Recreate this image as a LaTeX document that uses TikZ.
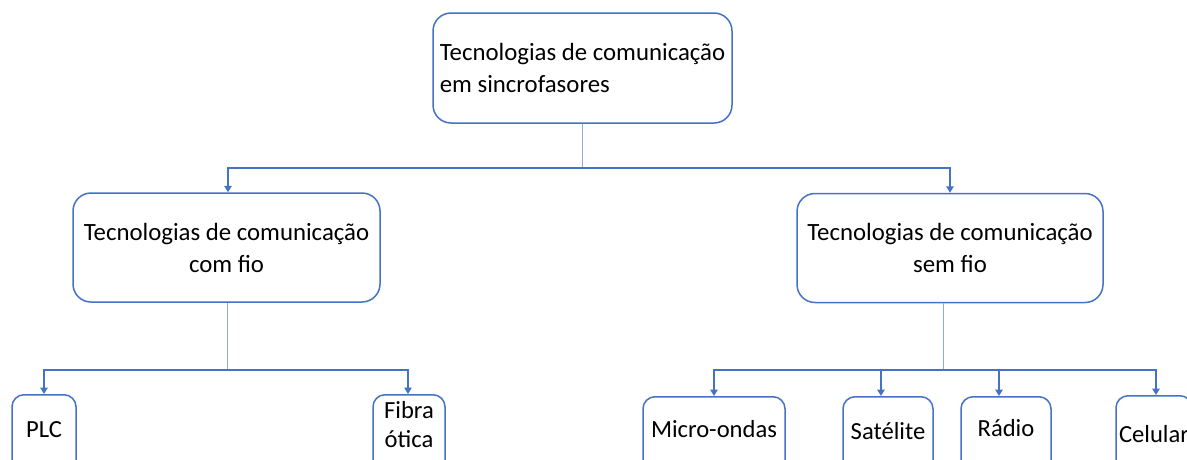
\documentclass[tikz,border=0pt]{standalone}
\usepackage{fontspec}
\setmainfont{Carlito}
\usetikzlibrary{arrows.meta}
\definecolor{boxblue}{HTML}{4472C4}
\definecolor{stemblue}{HTML}{8FAADC}
\begin{document}
\begin{tikzpicture}[x=1pt,y=-1pt,
  box/.style={draw=boxblue, line width=1.5pt, rounded corners=18pt, fill=white,
    font=\fontsize{24.8}{32}\selectfont, inner sep=0pt},
  leaf/.style={draw=boxblue, line width=1.5pt, rounded corners=12pt, fill=white,
    font=\fontsize{24.6}{29}\selectfont, anchor=north, inner xsep=0pt,
    text height=20pt, text depth=60pt},
  stem/.style={draw=stemblue, line width=0.9pt},
  arr/.style={draw=boxblue, line width=1.5pt, -{Triangle[width=7.5pt,length=6.5pt]}},
]
\useasboundingbox (0,0) rectangle (1187,459);
\clip (0,0) rectangle (1187,459);

% level 0
\node[box, minimum width=299pt, minimum height=110pt, align=left] (top) at (582.5,68)
  {Tecnologias de comunicação\\em sincrofasores};
% level 1
\node[box, minimum width=307pt, minimum height=109pt, align=center] (wired) at (226.5,247.5)
  {Tecnologias de comunicação\\com fio};
\node[box, minimum width=306pt, minimum height=109pt, align=center] (wless) at (950,248)
  {Tecnologias de comunicação\\sem fio};
% level 2
\node[leaf, minimum width=64pt, inner ysep=23pt] (plc) at (44,394) {PLC};
\node[leaf, minimum width=72pt, inner ysep=4pt] (fib) at (409,394)
  {\begin{tabular}[t]{@{}c@{}}Fibra\\ótica\end{tabular}};
\node[leaf, minimum width=142pt, inner ysep=21pt] (mic) at (714,396) {Micro-ondas};
\node[leaf, minimum width=90pt, inner ysep=23pt] (sat) at (888,396) {Satélite};
\node[leaf, minimum width=90pt, inner ysep=20pt] (rad) at (1006,396) {Rádio};
\node[leaf, minimum width=76pt, inner ysep=27pt] (cel) at (1154,395) {Celular};

% junctions
\coordinate (j0) at (582.5,168);
\coordinate (j1) at (227,370);
\coordinate (j2) at (943,370);

% connectors
\draw[stem] (top.south) -- (j0);
\draw[arr] (j0) -| ([xshift=1.5pt]wired.north);
\draw[arr] (j0) -| (wless.north);

\draw[stem] (wired.south -| j1) -- (j1);
\draw[arr] (j1) -| (plc.north);
\draw[arr] (j1) -| ([xshift=-1pt]fib.north);

\draw[stem] (wless.south -| j2) -- (j2);
\draw[arr] (j2) -| (mic.north);
\draw[arr] (j2) -| ([xshift=-7pt]sat.north);
\draw[arr] (j2) -| ([xshift=-7pt]rad.north);
\draw[arr] (j2) -| ([xshift=2pt]cel.north);
\end{tikzpicture}
\end{document}
